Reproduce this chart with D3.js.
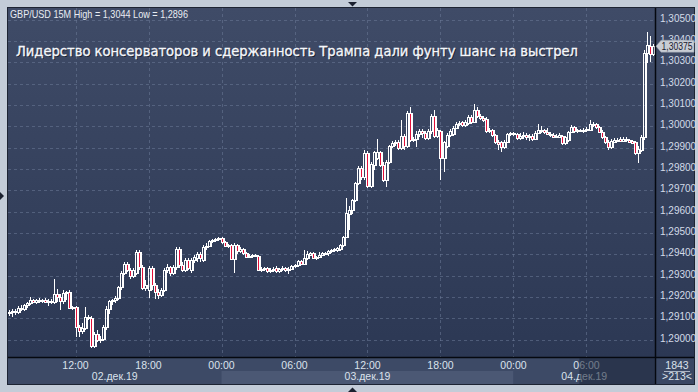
<!DOCTYPE html>
<html><head><meta charset="utf-8">
<script src="https://cdn.jsdelivr.net/npm/d3@7"></script>
<style>html,body{margin:0;padding:0;background:#c3ccd8;overflow:hidden}svg{display:block}</style>
</head><body><svg id="c" width="698" height="392"></svg>
<script>
// GBP/USD 15M candles, 02.12.19 06:30 .. 04.12.19 11:30
const open=[1.29124,1.29129,1.29134,1.29129,1.29148,1.29143,1.29162,1.29171,1.29185,1.29176,
1.29185,1.29180,1.29185,1.29176,1.29180,1.29176,1.29213,1.29199,1.29180,1.29218,
1.29223,1.29148,1.29152,1.29059,1.29040,1.29054,1.29105,1.29101,1.28970,1.29026,
1.28998,1.29002,1.29059,1.29143,1.29180,1.29185,1.29195,1.29246,1.29312,1.29354,
1.29326,1.29298,1.29312,1.29410,1.29340,1.29241,1.29232,1.29335,1.29255,1.29223,
1.29209,1.29232,1.29326,1.29340,1.29312,1.29340,1.29424,1.29349,1.29326,1.29373,
1.29326,1.29373,1.29382,1.29401,1.29373,1.29434,1.29438,1.29462,1.29466,1.29471,
1.29476,1.29457,1.29438,1.29443,1.29377,1.29443,1.29415,1.29424,1.29406,1.29387,
1.29392,1.29396,1.29392,1.29326,1.29330,1.29335,1.29321,1.29326,1.29335,1.29321,
1.29330,1.29335,1.29326,1.29330,1.29345,1.29349,1.29368,1.29354,1.29382,1.29396,
1.29406,1.29382,1.29387,1.29396,1.29401,1.29406,1.29415,1.29420,1.29420,1.29424,
1.29443,1.29480,1.29588,1.29607,1.29654,1.29734,1.29804,1.29762,1.29874,1.29720,
1.29818,1.29851,1.29879,1.29818,1.29748,1.29832,1.29907,1.29921,1.29926,1.29898,
1.29954,1.29907,1.30062,1.29935,1.29940,1.29963,1.29977,1.29968,1.29945,1.29977,
1.30048,1.29954,1.29977,1.29851,1.29907,1.29959,1.29963,1.29991,1.30010,1.30020,
1.30006,1.30015,1.30043,1.30020,1.30076,1.30048,1.30038,1.30034,1.29977,1.29982,
1.29959,1.29926,1.29926,1.29902,1.29926,1.29963,1.29963,1.29963,1.29945,1.29954,
1.29959,1.29949,1.29954,1.29940,1.29968,1.29977,1.29982,1.29973,1.29963,1.29959,
1.29949,1.29949,1.29954,1.29921,1.29935,1.29973,1.29996,1.29977,1.29982,1.29977,
1.29982,1.29982,1.30006,1.30010,1.29996,1.29973,1.29949,1.29926,1.29902,1.29926,
1.29931,1.29940,1.29931,1.29940,1.29935,1.29931,1.29926,1.29874,1.29888,1.29949,
1.30343,1.30376,1.30338];
const high=[1.29138,1.29143,1.29143,1.29157,1.29162,1.29166,1.29176,1.29199,1.29190,1.29190,
1.29195,1.29190,1.29195,1.29190,1.29190,1.29284,1.29237,1.29213,1.29232,1.29227,
1.29232,1.29157,1.29157,1.29068,1.29077,1.29152,1.29115,1.29110,1.29035,1.29045,
1.29016,1.29068,1.29157,1.29185,1.29190,1.29204,1.29251,1.29321,1.29363,1.29363,
1.29335,1.29335,1.29420,1.29420,1.29349,1.29279,1.29345,1.29345,1.29265,1.29237,
1.29241,1.29335,1.29354,1.29345,1.29349,1.29434,1.29434,1.29363,1.29382,1.29382,
1.29382,1.29396,1.29410,1.29410,1.29443,1.29452,1.29466,1.29471,1.29476,1.29480,
1.29480,1.29462,1.29448,1.29448,1.29452,1.29448,1.29434,1.29429,1.29410,1.29401,
1.29401,1.29401,1.29396,1.29340,1.29340,1.29340,1.29335,1.29340,1.29345,1.29335,
1.29345,1.29340,1.29340,1.29349,1.29354,1.29373,1.29373,1.29420,1.29415,1.29410,
1.29410,1.29392,1.29410,1.29410,1.29410,1.29420,1.29424,1.29429,1.29434,1.29448,
1.29485,1.29663,1.29626,1.29659,1.29738,1.29813,1.29813,1.29888,1.29884,1.29832,
1.29884,1.29940,1.29884,1.29832,1.29841,1.29912,1.29931,1.29935,1.29935,1.30029,
1.29963,1.30071,1.30090,1.29949,1.29977,1.29987,1.29987,1.29977,1.29987,1.30057,
1.30076,1.29991,1.29982,1.29931,1.29968,1.29987,1.30001,1.30020,1.30024,1.30024,
1.30029,1.30052,1.30052,1.30104,1.30090,1.30057,1.30048,1.30043,1.29991,1.29987,
1.29963,1.29935,1.29931,1.29935,1.29968,1.29973,1.29973,1.29968,1.29968,1.29973,
1.29968,1.29963,1.29963,1.29977,1.30010,1.30001,1.29987,1.29991,1.29973,1.29968,
1.29963,1.29968,1.29959,1.29954,1.29977,1.30006,1.30001,1.29987,1.29987,1.29991,
1.29996,1.30029,1.30020,1.30015,1.30001,1.29982,1.29954,1.29935,1.29940,1.29945,
1.29945,1.29949,1.29949,1.29949,1.29940,1.29935,1.29931,1.29907,1.29959,1.30357,
1.30442,1.30423,1.30385];
const low=[1.29110,1.29106,1.29115,1.29120,1.29134,1.29134,1.29148,1.29162,1.29171,1.29166,
1.29171,1.29171,1.29171,1.29157,1.29166,1.29166,1.29176,1.29138,1.29166,1.29185,
1.29143,1.29138,1.29012,1.29012,1.29026,1.29045,1.29091,1.28960,1.28960,1.28988,
1.28984,1.28993,1.29045,1.29120,1.29162,1.29171,1.29185,1.29232,1.29302,1.29316,
1.29284,1.29288,1.29302,1.29326,1.29232,1.29227,1.29195,1.29232,1.29190,1.29190,
1.29199,1.29223,1.29312,1.29298,1.29302,1.29326,1.29335,1.29316,1.29316,1.29326,
1.29312,1.29359,1.29363,1.29363,1.29363,1.29420,1.29434,1.29452,1.29457,1.29462,
1.29448,1.29434,1.29429,1.29373,1.29312,1.29401,1.29406,1.29396,1.29382,1.29382,
1.29382,1.29387,1.29321,1.29316,1.29321,1.29312,1.29312,1.29316,1.29312,1.29312,
1.29321,1.29316,1.29307,1.29326,1.29335,1.29340,1.29349,1.29349,1.29373,1.29392,
1.29377,1.29373,1.29382,1.29392,1.29396,1.29392,1.29406,1.29410,1.29410,1.29415,
1.29434,1.29476,1.29513,1.29588,1.29645,1.29724,1.29748,1.29748,1.29710,1.29710,
1.29795,1.29841,1.29809,1.29738,1.29715,1.29823,1.29898,1.29907,1.29888,1.29888,
1.29888,1.29898,1.29926,1.29926,1.29902,1.29949,1.29945,1.29935,1.29935,1.29963,
1.29945,1.29945,1.29748,1.29785,1.29898,1.29949,1.29954,1.29987,1.30001,1.29996,
1.29996,1.30006,1.30010,1.30015,1.30038,1.30029,1.30020,1.29968,1.29968,1.29949,
1.29916,1.29888,1.29879,1.29893,1.29921,1.29954,1.29954,1.29935,1.29935,1.29940,
1.29935,1.29931,1.29931,1.29935,1.29963,1.29968,1.29963,1.29959,1.29949,1.29945,
1.29945,1.29945,1.29912,1.29912,1.29926,1.29968,1.29968,1.29968,1.29973,1.29968,
1.29973,1.29977,1.29996,1.29987,1.29968,1.29940,1.29916,1.29888,1.29893,1.29921,
1.29926,1.29926,1.29926,1.29926,1.29921,1.29916,1.29865,1.29827,1.29879,1.29935,
1.30296,1.30301,1.30329];
const close=[1.29129,1.29134,1.29129,1.29148,1.29143,1.29162,1.29171,1.29185,1.29176,1.29185,
1.29180,1.29185,1.29176,1.29180,1.29176,1.29213,1.29199,1.29180,1.29218,1.29223,
1.29148,1.29152,1.29059,1.29040,1.29054,1.29105,1.29101,1.28970,1.29026,1.28998,
1.29002,1.29059,1.29143,1.29180,1.29185,1.29195,1.29246,1.29312,1.29354,1.29326,
1.29298,1.29326,1.29410,1.29340,1.29241,1.29255,1.29335,1.29255,1.29223,1.29209,
1.29232,1.29326,1.29340,1.29312,1.29340,1.29424,1.29349,1.29326,1.29373,1.29335,
1.29373,1.29387,1.29401,1.29382,1.29434,1.29438,1.29462,1.29466,1.29471,1.29476,
1.29457,1.29438,1.29443,1.29377,1.29443,1.29415,1.29424,1.29406,1.29387,1.29392,
1.29396,1.29392,1.29326,1.29330,1.29335,1.29321,1.29326,1.29330,1.29321,1.29330,
1.29335,1.29326,1.29330,1.29345,1.29349,1.29368,1.29354,1.29382,1.29401,1.29406,
1.29382,1.29387,1.29396,1.29406,1.29406,1.29415,1.29420,1.29424,1.29429,1.29443,
1.29480,1.29593,1.29607,1.29654,1.29734,1.29804,1.29762,1.29874,1.29720,1.29823,
1.29879,1.29879,1.29818,1.29748,1.29832,1.29907,1.29921,1.29926,1.29898,1.29954,
1.29907,1.30062,1.29935,1.29940,1.29963,1.29977,1.29968,1.29945,1.29977,1.30048,
1.29954,1.29982,1.29851,1.29926,1.29959,1.29977,1.29991,1.30010,1.30015,1.30006,
1.30020,1.30043,1.30020,1.30076,1.30048,1.30038,1.30029,1.29977,1.29982,1.29959,
1.29926,1.29916,1.29902,1.29926,1.29963,1.29968,1.29968,1.29945,1.29954,1.29959,
1.29949,1.29954,1.29940,1.29968,1.29982,1.29982,1.29973,1.29963,1.29959,1.29949,
1.29954,1.29959,1.29921,1.29949,1.29973,1.29996,1.29977,1.29982,1.29977,1.29982,
1.29987,1.30010,1.30010,1.29996,1.29973,1.29949,1.29926,1.29902,1.29931,1.29935,
1.29935,1.29931,1.29940,1.29935,1.29926,1.29921,1.29874,1.29893,1.29949,1.30343,
1.30381,1.30338,1.30375];

const priceTicks=[1.290,1.291,1.292,1.293,1.294,1.295,1.296,1.297,1.298,1.299,1.300,1.301,1.302,1.303,1.304,1.305];
const timeTickBars=[22,46,70,94,118,142,166,190];
const timeTickLabels=["12:00","18:00","00:00","06:00","12:00","18:00","00:00","06:00"];
const dayStartBars=[0,70,166];
const dayLabels=["02.дек.19","03.дек.19","04.дек.19"];
const headerText="GBP/USD 15M High = 1,3044 Low = 1,2896";
const titleText="Лидерство консерваторов и сдержанность Трампа дали фунту шанс на выстрел";
const lastPrice=1.30375;
const barsInfo=["1843",">213<"];

const svg=d3.select("#c");
const L=8,T=8,R=655,B=357,AX=694,AB=384;
const n=close.length;
const x=d3.scaleLinear().domain([0,212]).range([8.6,653.4]);
const y=d3.scaleLinear().domain([1.28918,1.30554]).range([B,T]);

const defs=svg.append("defs");
const g1=defs.append("linearGradient").attr("id","bg").attr("x1",0).attr("y1",0).attr("x2",0).attr("y2",1);
g1.append("stop").attr("offset","0%").attr("stop-color","#3f4b67");
g1.append("stop").attr("offset","100%").attr("stop-color","#2c3854");
defs.append("clipPath").attr("id","pc").append("rect").attr("x",L).attr("y",T).attr("width",R-L).attr("height",B-T);

// frame pieces
svg.append("rect").attr("x",0).attr("y",0).attr("width",698).attr("height",392).attr("fill","#c3ccd8");
svg.append("rect").attr("x",L-1).attr("y",T-1).attr("width",AX-L+2).attr("height",AB-T+2).attr("fill","#1d2433");
svg.append("rect").attr("x",L).attr("y",T).attr("width",AX-L).attr("height",B-T).attr("fill","url(#bg)");
// x-axis strip
svg.append("rect").attr("x",L).attr("y",B).attr("width",R-L).attr("height",AB-B).attr("fill","#3d4a66");
// day bands
const dayEdges=dayStartBars.map(b=>b===0?L:x(b)).concat([R]);
dayLabels.forEach((d,k)=>{
  const x0=dayEdges[k],x1=dayEdges[k+1];
  svg.append("rect").attr("x",x0).attr("y",371).attr("width",x1-x0).attr("height",AB-371)
    .attr("fill",k%2===1?"#4b5874":"#3d4a66");
});
svg.append("rect").attr("x",R).attr("y",B).attr("width",AX-R).attr("height",AB-B).attr("fill","#3a4763");

// grid
const grid=svg.append("g").attr("stroke","#6b7a98").attr("stroke-opacity",0.55).attr("stroke-dasharray","3,3").attr("shape-rendering","crispEdges");
priceTicks.forEach(p=>{grid.append("line").attr("x1",L).attr("x2",R).attr("y1",Math.round(y(p))+0.5).attr("y2",Math.round(y(p))+0.5);});
timeTickBars.forEach(b=>{grid.append("line").attr("y1",T).attr("y2",B).attr("x1",Math.round(x(b))+0.5).attr("x2",Math.round(x(b))+0.5);});

// header + title
svg.append("text").attr("x",10).attr("y",18).attr("font-family","Liberation Sans, Arial, sans-serif").attr("font-size",10.5)
  .attr("fill","#e9edf3").attr("textLength",178).attr("lengthAdjust","spacingAndGlyphs").text(headerText);
svg.append("text").attr("x",17).attr("y",57).attr("font-family","DejaVu Sans, sans-serif").attr("font-size",14.5)
  .attr("fill","#0e1422").attr("fill-opacity",0.8).attr("textLength",562).attr("lengthAdjust","spacingAndGlyphs").text(titleText);
svg.append("text").attr("x",16).attr("y",56).attr("font-family","DejaVu Sans, sans-serif").attr("font-size",14.5)
  .attr("fill","#f5f7fb").attr("stroke","#f5f7fb").attr("stroke-width",0.35)
  .attr("textLength",562).attr("lengthAdjust","spacingAndGlyphs").text(titleText);

// candles
const cg=svg.append("g").attr("clip-path","url(#pc)").attr("shape-rendering","crispEdges");
d3.range(n).forEach(i=>{
  const X=Math.round(x(i))-1;
  const top=Math.round(y(Math.max(open[i],close[i])));
  const bot=Math.round(y(Math.min(open[i],close[i])));
  const hy=Math.round(y(high[i])), ly=Math.round(y(low[i]));
  const bear=close[i]<open[i];
  if(hy<top) cg.append("line").attr("x1",X+1.5).attr("x2",X+1.5).attr("y1",hy).attr("y2",top).attr("stroke","#ffffff");
  if(ly>bot) cg.append("line").attr("x1",X+1.5).attr("x2",X+1.5).attr("y1",bot).attr("y2",ly).attr("stroke","#ffffff");
  cg.append("rect").attr("x",X+0.5).attr("y",top+0.5).attr("width",2.5).attr("height",Math.max(bot-top,1))
    .attr("fill",bear?"#e3103a":"none").attr("stroke","#ffffff").attr("stroke-width",1.2);
});

// borders
svg.append("line").attr("x1",L).attr("x2",AX).attr("y1",B+0.5).attr("y2",B+0.5).attr("stroke","#05080f").attr("stroke-width",1.5);
svg.append("line").attr("x1",R+0.5).attr("x2",R+0.5).attr("y1",T).attr("y2",AB).attr("stroke","#05080f").attr("stroke-width",1.5);

// price axis labels
const fmt=d3.format(".5f");
const pa=svg.append("g").attr("font-family","Liberation Sans, Arial, sans-serif").attr("font-size",10).attr("fill","#d3dbe8");
priceTicks.forEach(p=>{pa.append("text").attr("x",660).attr("y",y(p)+2).text(fmt(p).replace(".",","));});

// last price marker
const ly0=y(lastPrice);
svg.append("polygon").attr("points",`${656},${ly0} ${661},${ly0-6} ${694},${ly0-6} ${694},${ly0+6} ${661},${ly0+6}`)
  .attr("fill","#c9cdd4").attr("stroke","#8f98a8").attr("stroke-width",0.5);
svg.append("text").attr("x",661.5).attr("y",ly0+3.5).attr("font-family","Liberation Sans, Arial, sans-serif").attr("font-size",10)
  .attr("fill","#1a2030").attr("textLength",31).attr("lengthAdjust","spacingAndGlyphs").text(fmt(lastPrice).replace(".",","));

// time axis
const xa=svg.append("g").attr("font-family","Liberation Sans, Arial, sans-serif").attr("font-size",10.5).attr("fill","#dbe2ec").attr("text-anchor","middle");
timeTickBars.forEach((b,k)=>{xa.append("text").attr("x",x(b)).attr("y",368.5).text(timeTickLabels[k]);});
dayLabels.forEach((d,k)=>{xa.append("text").attr("x",(dayEdges[k]+dayEdges[k+1])/2).attr("y",379.5).text(d);});
// scroll overlay
svg.append("rect").attr("x",x(188)-1).attr("y",B+1).attr("width",R-x(188)+1).attr("height",AB-B-1).attr("fill","#1c2538").attr("fill-opacity",0.55);

// bottom-right cell
const br=svg.append("g").attr("font-family","Liberation Sans, Arial, sans-serif").attr("font-size",10.5).attr("fill","#dbe2ec").attr("text-anchor","middle");
br.append("text").attr("x",677).attr("y",368.5).text(barsInfo[0]);
svg.append("line").attr("x1",664).attr("x2",690).attr("y1",371.5).attr("y2",371.5).attr("stroke","#aab4c4").attr("stroke-width",1);
br.append("text").attr("x",677).attr("y",380).text(barsInfo[1]);

// little markers on frame
svg.append("polygon").attr("points","348,2 357,2 352.5,6.5").attr("fill","#1b2130");
svg.append("polygon").attr("points","348,392 357,392 352.5,387.5").attr("fill","#1b2130");
svg.append("polygon").attr("points","0,192 0,200 4,196").attr("fill","#1b2130");
</script></body></html>
